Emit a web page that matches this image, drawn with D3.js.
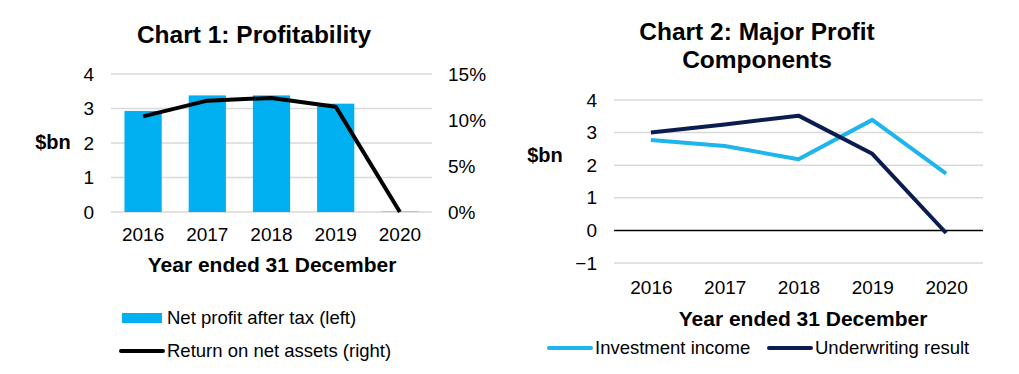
<!DOCTYPE html>
<html>
<head>
<meta charset="utf-8">
<script src="https://cdn.jsdelivr.net/npm/d3@7"></script>
<style>
  body { margin: 0; background: #fff; }
  svg { font-family: "Liberation Sans", Arial, sans-serif; }
  .grid line { stroke: #d9d9d9; stroke-width: 1.5; }
  .tick text { fill: #000; }
</style>
</head>
<body>
<script>
// Data
const years = ["2016", "2017", "2018", "2019", "2020"];
const netProfit = [2.93, 3.38, 3.38, 3.14, 0.01];      // $bn, left axis
const returnOnAssets = [10.4, 12.1, 12.4, 11.45, 0];     // %, right axis
const investmentIncome = [2.77, 2.59, 2.18, 3.39, 1.74]; // $bn
const underwritingResult = [3.0, 3.25, 3.52, 2.35, -0.08];
const leftTicks1 = [0, 1, 2, 3, 4];
const rightTicks1 = [0, 5, 10, 15];
const ticks2 = [-1, 0, 1, 2, 3, 4];

const blue = "#00b0f0", lightBlue = "#1eb4ec", navy = "#0b1d4f";
const tickSize = 19, legendSize = 18.5;

const svg = d3.select("body")
    .append("svg")
    .attr("width", 1019)
    .attr("height", 374);

// ---------- Chart 1 ----------
const c1 = { left: 111, right: 432, top: 74, bottom: 212 };

const x1 = d3.scaleBand()
    .domain(years)
    .range([c1.left, c1.right])
    .paddingInner(0.42)
    .paddingOuter(0.21);

const y1 = d3.scaleLinear().domain([0, 4]).range([c1.bottom, c1.top]);
const y1r = d3.scaleLinear().domain([0, 15]).range([c1.bottom, c1.top]);

svg.append("text")
    .attr("x", 254).attr("y", 43)
    .attr("text-anchor", "middle")
    .attr("font-size", 24.5).attr("font-weight", "bold")
    .text("Chart 1: Profitability");

// gridlines
svg.append("g").attr("class", "grid")
    .selectAll("line").data(leftTicks1).join("line")
    .attr("x1", c1.left).attr("x2", c1.right)
    .attr("y1", d => y1(d)).attr("y2", d => y1(d));

// left axis
svg.append("g")
    .attr("transform", `translate(${c1.left - 14},0)`)
    .call(d3.axisLeft(y1).tickValues(leftTicks1).tickSize(0).tickFormat(d3.format("d")))
    .call(g => g.select(".domain").remove())
    .selectAll("text").attr("font-size", tickSize);

// right axis
svg.append("g")
    .attr("transform", `translate(${c1.right + 13},0)`)
    .call(d3.axisRight(y1r).tickValues(rightTicks1).tickSize(0).tickFormat(d => d + "%"))
    .call(g => g.select(".domain").remove())
    .selectAll("text").attr("font-size", tickSize);

svg.append("text")
    .attr("x", 53).attr("y", 149)
    .attr("text-anchor", "middle")
    .attr("font-size", 20).attr("font-weight", "bold")
    .text("$bn");

// bars
svg.append("g").selectAll("rect")
    .data(years.map((y, i) => ({ year: y, v: netProfit[i] })))
    .join("rect")
    .attr("x", d => x1(d.year))
    .attr("width", x1.bandwidth())
    .attr("y", d => y1(d.v))
    .attr("height", d => y1(0) - y1(d.v))
    .attr("fill", blue);

// line
const line1 = d3.line()
    .x((d, i) => x1(years[i]) + x1.bandwidth() / 2)
    .y(d => y1r(d));

svg.append("path")
    .datum(returnOnAssets)
    .attr("d", line1)
    .attr("fill", "none")
    .attr("stroke", "#000")
    .attr("stroke-width", 4)
    .attr("stroke-linejoin", "round");

// x axis
svg.append("g")
    .attr("transform", `translate(0,${c1.bottom + 12})`)
    .call(d3.axisBottom(x1).tickSize(0))
    .call(g => g.select(".domain").remove())
    .selectAll("text").attr("font-size", tickSize);

svg.append("text")
    .attr("x", 272).attr("y", 272)
    .attr("text-anchor", "middle")
    .attr("font-size", 21).attr("font-weight", "bold")
    .text("Year ended 31 December");

// legend 1
svg.append("rect")
    .attr("x", 122).attr("y", 313).attr("width", 40).attr("height", 10)
    .attr("fill", blue);
svg.append("text")
    .attr("x", 167).attr("y", 324)
    .attr("font-size", legendSize)
    .text("Net profit after tax (left)");
svg.append("line")
    .attr("x1", 121).attr("x2", 163).attr("y1", 351).attr("y2", 351)
    .attr("stroke", "#000").attr("stroke-width", 4).attr("stroke-linecap", "round");
svg.append("text")
    .attr("x", 167).attr("y", 357)
    .attr("font-size", legendSize)
    .text("Return on net assets (right)");

// ---------- Chart 2 ----------
const c2 = { left: 614, right: 983, top: 100, bottom: 263 };

const x2 = d3.scalePoint()
    .domain(years)
    .range([c2.left, c2.right])
    .padding(0.5);

const y2 = d3.scaleLinear().domain([-1, 4]).range([c2.bottom, c2.top]);

const title2 = svg.append("text")
    .attr("x", 757).attr("y", 40)
    .attr("text-anchor", "middle")
    .attr("font-size", 24.5).attr("font-weight", "bold");
title2.append("tspan").attr("x", 757).text("Chart 2: Major Profit");
title2.append("tspan").attr("x", 757).attr("dy", 28).text("Components");

svg.append("g").attr("class", "grid")
    .selectAll("line").data(ticks2.filter(d => d !== 0)).join("line")
    .attr("x1", c2.left).attr("x2", c2.right)
    .attr("y1", d => y2(d)).attr("y2", d => y2(d));

svg.append("line")
    .attr("x1", c2.left).attr("x2", c2.right)
    .attr("y1", y2(0)).attr("y2", y2(0))
    .attr("stroke", "#000").attr("stroke-width", 1.5);

svg.append("g")
    .attr("transform", `translate(${c2.left - 14},0)`)
    .call(d3.axisLeft(y2).tickValues(ticks2).tickSize(0).tickFormat(d3.format("d")))
    .call(g => g.select(".domain").remove())
    .selectAll("text").attr("font-size", tickSize);

svg.append("text")
    .attr("x", 545).attr("y", 162)
    .attr("text-anchor", "middle")
    .attr("font-size", 20).attr("font-weight", "bold")
    .text("$bn");

const line2 = d3.line()
    .x((d, i) => x2(years[i]))
    .y(d => y2(d));

[[investmentIncome, lightBlue], [underwritingResult, navy]].forEach(([data, color]) => {
    svg.append("path")
        .datum(data)
        .attr("d", line2)
        .attr("fill", "none")
        .attr("stroke", color)
        .attr("stroke-width", 4)
        .attr("stroke-linejoin", "round");
});

svg.append("g")
    .attr("transform", `translate(0,${c2.bottom + 14})`)
    .call(d3.axisBottom(x2).tickSize(0))
    .call(g => g.select(".domain").remove())
    .selectAll("text").attr("font-size", tickSize);

svg.append("text")
    .attr("x", 803).attr("y", 326)
    .attr("text-anchor", "middle")
    .attr("font-size", 21).attr("font-weight", "bold")
    .text("Year ended 31 December");

// legend 2
const legend2 = [
    { label: "Investment income", color: lightBlue, x: 549 },
    { label: "Underwriting result", color: navy, x: 769 }
];
const lg = svg.append("g").selectAll("g").data(legend2).join("g");
lg.append("line")
    .attr("x1", d => d.x).attr("x2", d => d.x + 42)
    .attr("y1", 348).attr("y2", 348)
    .attr("stroke", d => d.color).attr("stroke-width", 4).attr("stroke-linecap", "round");
lg.append("text")
    .attr("x", d => d.x + 46).attr("y", 354)
    .attr("font-size", legendSize)
    .text(d => d.label);
</script>
</body>
</html>
